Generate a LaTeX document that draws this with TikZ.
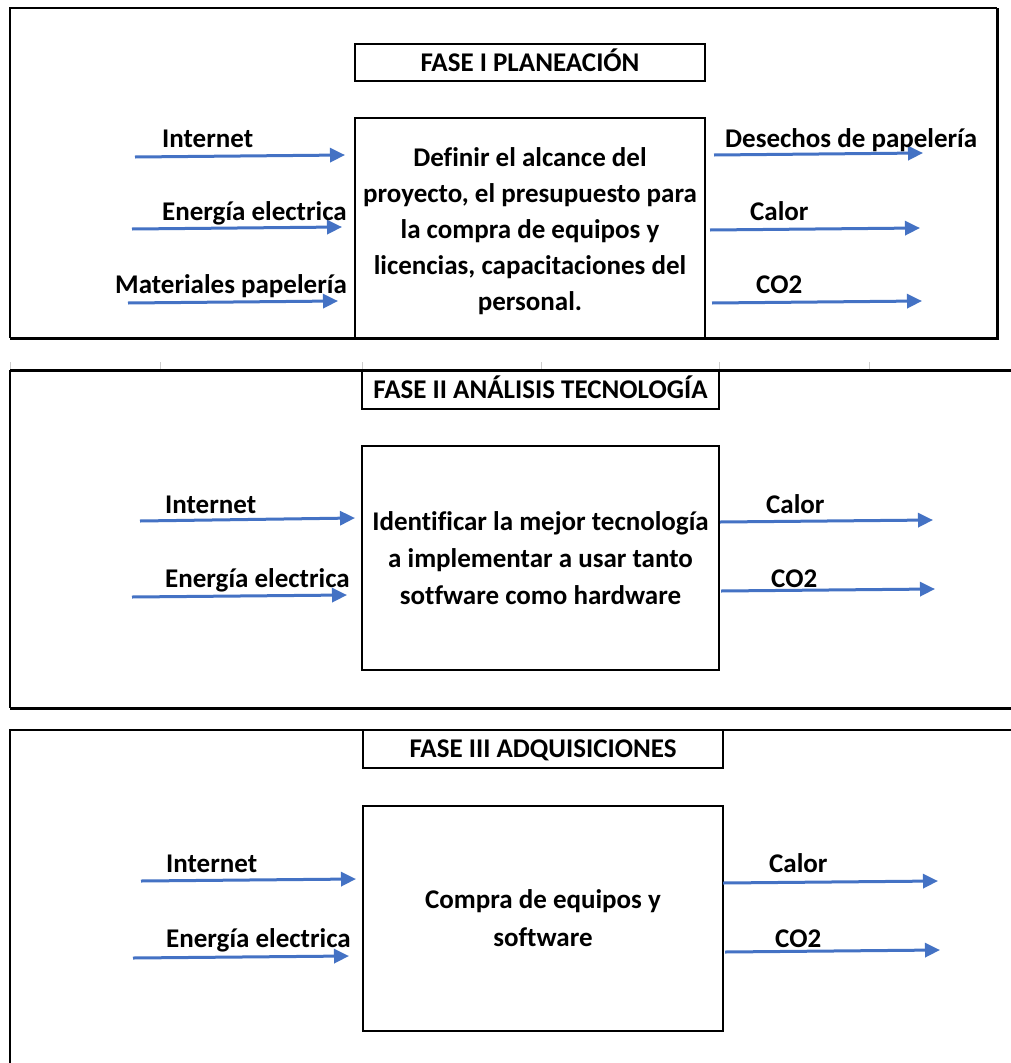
\documentclass[tikz,border=0pt]{standalone}
\usepackage{fontspec}
\setmainfont{Carlito}[Ligatures=CommonOff]
\usetikzlibrary{arrows.meta}
\definecolor{flowblue}{RGB}{68,114,196}
\definecolor{gridgray}{RGB}{205,205,205}

\begin{document}
\begin{tikzpicture}[x=1pt,y=-1pt,
  every node/.style={font=\fontsize{27pt}{36pt}\selectfont\bfseries, inner sep=0pt, text=black},
  flow/.style={draw=flowblue, line width=3pt, -{Triangle[length=15pt,width=14pt]}},
  lbl/.style={anchor=base west},
  titlebox/.style={draw, line width=1.6pt, text height=17.5pt, text depth=0pt},
  procbox/.style={draw, line width=1.6pt, align=center},
  proctext/.style={align=center},
  thinrule/.style={line width=1.4pt},
  thickrule/.style={line width=3pt}
]
\useasboundingbox (0,0) rectangle (1010,1063);
\fill[white] (0,0) rectangle (1010,1063);

% spreadsheet cell ticks between the first two panels
\foreach \gx in {10,160,362,541,719,869}
  \draw[gridgray, line width=1pt] (\gx,362) -- (\gx,369);

% ---------------- Phase I ----------------
\draw[thinrule] (10,338) -- (10,8) -- (997,8);
\draw[thickrule] (997,8) -- (997,338) -- (10,338);

\node[titlebox, minimum width=350pt, minimum height=37pt] (t1) at (530,62.5) {FASE I PLANEACIÓN};
\node[procbox, minimum width=350pt, minimum height=220pt] (p1) at (530,228) {};
\node[proctext] (p1txt) at (530,231)
  {Definir el alcance del\\proyecto, el presupuesto para\\la compra de equipos y\\licencias, capacitaciones del\\personal.};

\coordinate (a1s) at (135,157);  \coordinate (a1e) at (345,155);
\coordinate (a2s) at (132,229);  \coordinate (a2e) at (342,227);
\coordinate (a3s) at (128,303);  \coordinate (a3e) at (338,301);
\coordinate (b1s) at (714,155);  \coordinate (b1e) at (923,153);
\coordinate (b2s) at (710,230);  \coordinate (b2e) at (920,228);
\coordinate (b3s) at (712,303);  \coordinate (b3e) at (922,301);
\draw[flow] (a1s) -- (a1e);
\draw[flow] (a2s) -- (a2e);
\draw[flow] (a3s) -- (a3e);
\draw[flow] (b1s) -- (b1e);
\draw[flow] (b2s) -- (b2e);
\draw[flow] (b3s) -- (b3e);

\node[lbl] (l11) at (162,147) {Internet};
\node[lbl] (l12) at (162,220) {Energía electrica};
\node[lbl] (l13) at (115,293) {Materiales papelería};
\node[lbl] (r11) at (725,147) {Desechos de papelería};
\node[lbl] (r12) at (750,220) {Calor};
\node[lbl] (r13) at (756,293) {CO2};

% ---------------- Phase II ----------------
\draw[thickrule] (10,370) -- (1012,370);
\draw[thickrule] (10,708) -- (1012,708);
\draw[thinrule] (10,370) -- (10,708);

\node[titlebox, minimum width=357pt, minimum height=39pt] (t2) at (540.5,389.5) {FASE II ANÁLISIS TECNOLOGÍA};
\node[procbox, minimum width=357pt, minimum height=224pt, font=\fontsize{27pt}{37pt}\selectfont\bfseries] (p2) at (540.5,558)
  {Identificar la mejor tecnología\\a implementar a usar tanto\\sotfware como hardware};

\coordinate (c1s) at (140,521);  \coordinate (c1e) at (355,518);
\coordinate (c2s) at (132,597);  \coordinate (c2e) at (347,595);
\coordinate (d1s) at (720,522);  \coordinate (d1e) at (933,520);
\coordinate (d2s) at (721,591);  \coordinate (d2e) at (935,589);
\draw[flow] (c1s) -- (c1e);
\draw[flow] (c2s) -- (c2e);
\draw[flow] (d1s) -- (d1e);
\draw[flow] (d2s) -- (d2e);

\node[lbl] (l21) at (165,513) {Internet};
\node[lbl] (l22) at (165,587) {Energía electrica};
\node[lbl] (r21) at (766,513) {Calor};
\node[lbl] (r22) at (771,587) {CO2};

% ---------------- Phase III ----------------
\draw[thinrule] (1012,730) -- (10,730) -- (10,1065);

\node[titlebox, minimum width=360pt, minimum height=38pt] (t3) at (543,749) {FASE III ADQUISICIONES};
\node[procbox, minimum width=360pt, minimum height=225pt, font=\fontsize{27pt}{38pt}\selectfont\bfseries] (p3) at (543,918.5)
  {Compra de equipos y\\software};

\coordinate (e1s) at (141,881);  \coordinate (e1e) at (356,879);
\coordinate (e2s) at (133,958);  \coordinate (e2e) at (349,956);
\coordinate (f1s) at (723,883);  \coordinate (f1e) at (938,881);
\coordinate (f2s) at (725,952);  \coordinate (f2e) at (940,950);
\draw[flow] (e1s) -- (e1e);
\draw[flow] (e2s) -- (e2e);
\draw[flow] (f1s) -- (f1e);
\draw[flow] (f2s) -- (f2e);

\node[lbl] (l31) at (166,872) {Internet};
\node[lbl] (l32) at (166,947) {Energía electrica};
\node[lbl] (r31) at (769,872) {Calor};
\node[lbl] (r32) at (775,947) {CO2};
\end{tikzpicture}
\end{document}
